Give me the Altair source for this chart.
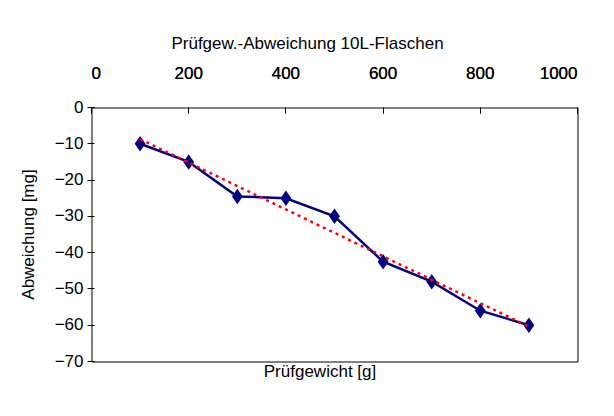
import altair as alt
import pandas as pd

# Data
gewicht = [100, 200, 300, 400, 500, 600, 700, 800, 900]
abweichung = [-10, -15, -24.5, -25, -30, -42.5, -48, -56, -60]
x_ticks = [0, 200, 400, 600, 800, 1000]
y_ticks = [-70, -60, -50, -40, -30, -20, -10, 0]

df = pd.DataFrame({"Prüfgewicht": gewicht, "Abweichung": abweichung})

FONT = "Liberation Sans"
NAVY = "#000080"
RED = "#FF0000"

xscale = alt.Scale(domain=[0, 1000], nice=False, zero=False)
yscale = alt.Scale(domain=[-70, 0], nice=False)

x_top = alt.X(
    "Prüfgewicht:Q", scale=xscale,
    axis=alt.Axis(orient="top", title=None, values=x_ticks, format="d", offset=-6,
                  tickSize=6, tickWidth=1, domain=False, grid=False, labelPadding=25,
                  labelFontSize=17, labelFont=FONT, labelFontWeight="normal",
                  labelColor="black", tickColor="black", translate=0),
)
y_left = alt.Y(
    "Abweichung:Q", scale=yscale,
    axis=alt.Axis(title="Abweichung [mg]", values=y_ticks, format="d", offset=-3,
                  tickSize=7, tickWidth=1, domain=False, grid=False, labelPadding=4,
                  labelFontSize=17, labelFont=FONT, labelFontWeight="normal",
                  labelColor="black", tickColor="black", translate=0,
                  titleFont=FONT, titleFontSize=17, titleFontWeight="normal",
                  titleColor="black", titlePadding=17),
)

base = alt.Chart(df)

line = base.mark_line(color=NAVY, strokeWidth=2.5).encode(x=x_top, y=y_left)
points = base.mark_point(
    shape="M-0.7,0L0,-1L0.7,0L0,1Z", filled=True, color=NAVY, opacity=1, size=240
).encode(x=x_top, y=y_left)

trend = base.transform_regression("Prüfgewicht", "Abweichung").mark_line(
    color=RED, strokeWidth=2.5, strokeDash=[3, 4]
).encode(
    x=alt.X("Prüfgewicht:Q", scale=xscale,
            axis=alt.Axis(orient="bottom", title="Prüfgewicht [g]", labels=False,
                          ticks=False, domain=False, grid=False, titlePadding=2,
                          titleFont=FONT, titleFontSize=17, titleFontWeight="normal",
                          titleColor="black", titleX=228)),
    y=y_left,
)

chart = (
    alt.layer(line, points, trend)
    .resolve_axis(x="independent")
    .properties(
        width=486, height=254,
        title=alt.Title("Prüfgew.-Abweichung 10L-Flaschen", font=FONT, fontSize=17,
                        fontWeight="normal", color="black", dx=-27, offset=12),
        autosize=alt.AutoSizeParams(type="none"),
        padding={"left": 83.5, "top": 99.5, "right": 28.5, "bottom": 46.5},
        view=alt.ViewBackground(stroke="black", strokeWidth=1, strokeOpacity=1),
    )
    .configure(background="white")
)

chart.save("out.html", embed_options={"renderer": "svg", "actions": False})
